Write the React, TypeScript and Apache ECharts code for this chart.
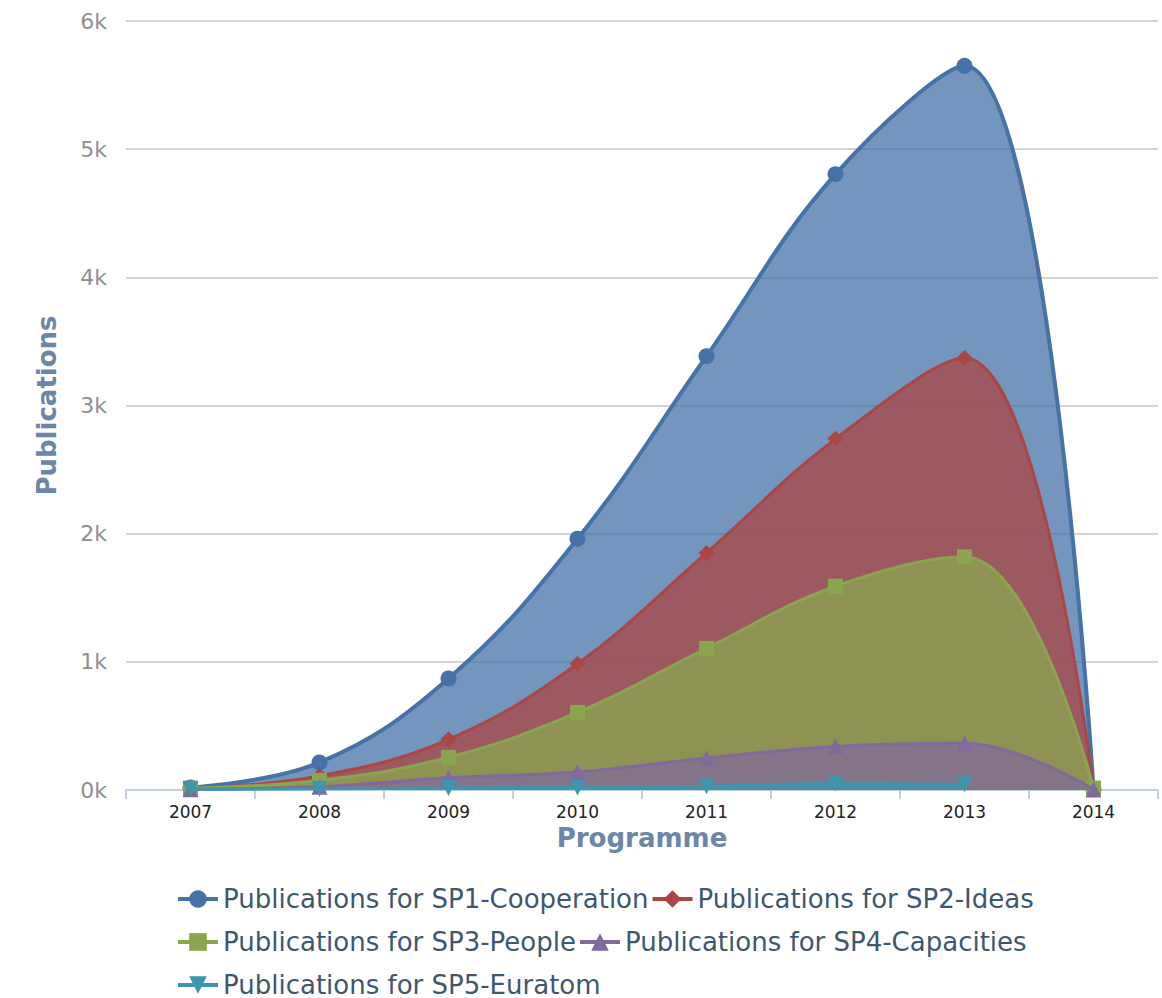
import React, { useEffect, useRef } from "react";
import * as echarts from "echarts";

const years = ["2007", "2008", "2009", "2010", "2011", "2012", "2013", "2014"];
const sp1 = [20, 215, 870, 1960, 3385, 4805, 5650, 5];
const sp2 = [10, 110, 395, 985, 1850, 2740, 3370, 5];
const sp3 = [15, 75, 255, 605, 1105, 1590, 1820, 15];
const sp4 = [5, 25, 95, 140, 250, 340, 365, 3];
const sp5 = [5, 10, 15, 20, 30, 50, 45, null];
const seriesNames = [
  "Publications for SP1-Cooperation",
  "Publications for SP2-Ideas",
  "Publications for SP3-People",
  "Publications for SP4-Capacities",
  "Publications for SP5-Euratom",
];
const colors = ["#4572A7", "#AA4643", "#89A54E", "#80699B", "#3D96AE"];
const symbols = ["circle", "diamond", "rect", "triangle", "path://M0,0 L10,0 L5,10 Z"];
const symbolSizes = [16, 16, 15, 16, 16];
const lineWidths = [4, 3, 3, 3, 3];

const FONT = "DejaVu Sans";

export default function App() {
  const ref = useRef<HTMLDivElement>(null);
  useEffect(() => {
    const chart = echarts.init(ref.current!, undefined, { renderer: "svg" });
    const datas = [sp1, sp2, sp3, sp4, sp5];
    const legendBase = {
      left: 171,
      orient: "horizontal" as const,
      itemWidth: 40,
      itemHeight: 22,
      itemGap: 2,
      lineStyle: { width: 4 },
      textStyle: { color: "#3E576F", fontSize: 26, fontFamily: FONT },
      selectedMode: false,
    };
    chart.setOption({
      animation: false,
      backgroundColor: "#ffffff",
      grid: { left: 126, right: 4, top: 21, bottom: 208, containLabel: false },
      legend: [
        { ...legendBase, top: 881, data: [seriesNames[0], seriesNames[1]] },
        { ...legendBase, top: 924, data: [seriesNames[2], seriesNames[3]] },
        { ...legendBase, top: 967, data: [seriesNames[4]] },
      ],
      xAxis: {
        type: "category",
        data: years,
        boundaryGap: true,
        name: "Programme",
        nameLocation: "middle",
        nameGap: 33,
        nameTextStyle: { color: "#6B86A6", fontSize: 26, fontWeight: "bold", fontFamily: FONT },
        axisLine: { lineStyle: { color: "#C0D0E0", width: 2 } },
        axisTick: { show: true, length: 9, lineStyle: { color: "#C0D0E0", width: 2 } },
        axisLabel: { color: "#222222", fontSize: 17, fontFamily: FONT, margin: 13 },
        splitLine: { show: false },
      },
      yAxis: {
        type: "value",
        min: 0,
        max: 6000,
        interval: 1000,
        name: "Publications",
        nameLocation: "middle",
        nameGap: 66,
        nameRotate: 90,
        nameTextStyle: { color: "#6B86A6", fontSize: 26, fontWeight: "bold", fontFamily: FONT },
        axisLine: { show: false },
        axisTick: { show: false },
        axisLabel: {
          color: "#8f8f8f",
          fontSize: 22,
          fontFamily: FONT,
          margin: 19,
          formatter: (v: number) => v / 1000 + "k",
        },
        splitLine: { show: true, lineStyle: { color: "#c6c6c6", width: 1.5 } },
      },
      series: datas.map((d, i) => ({
        name: seriesNames[i],
        type: "line",
        data: d,
        smooth: 0.4,
        symbol: symbols[i],
        symbolSize: symbolSizes[i],
        showAllSymbol: true,
        color: colors[i],
        lineStyle: { color: colors[i], width: lineWidths[i] },
        itemStyle: { color: colors[i] },
        areaStyle: { color: colors[i], opacity: 0.75 },
        z: 2 + i,
      })),
    });
    return () => chart.dispose();
  }, []);
  return (
    <div
      ref={ref}
      style={{ position: "fixed", left: 0, top: 0, width: 1162, height: 998 }}
    />
  );
}
